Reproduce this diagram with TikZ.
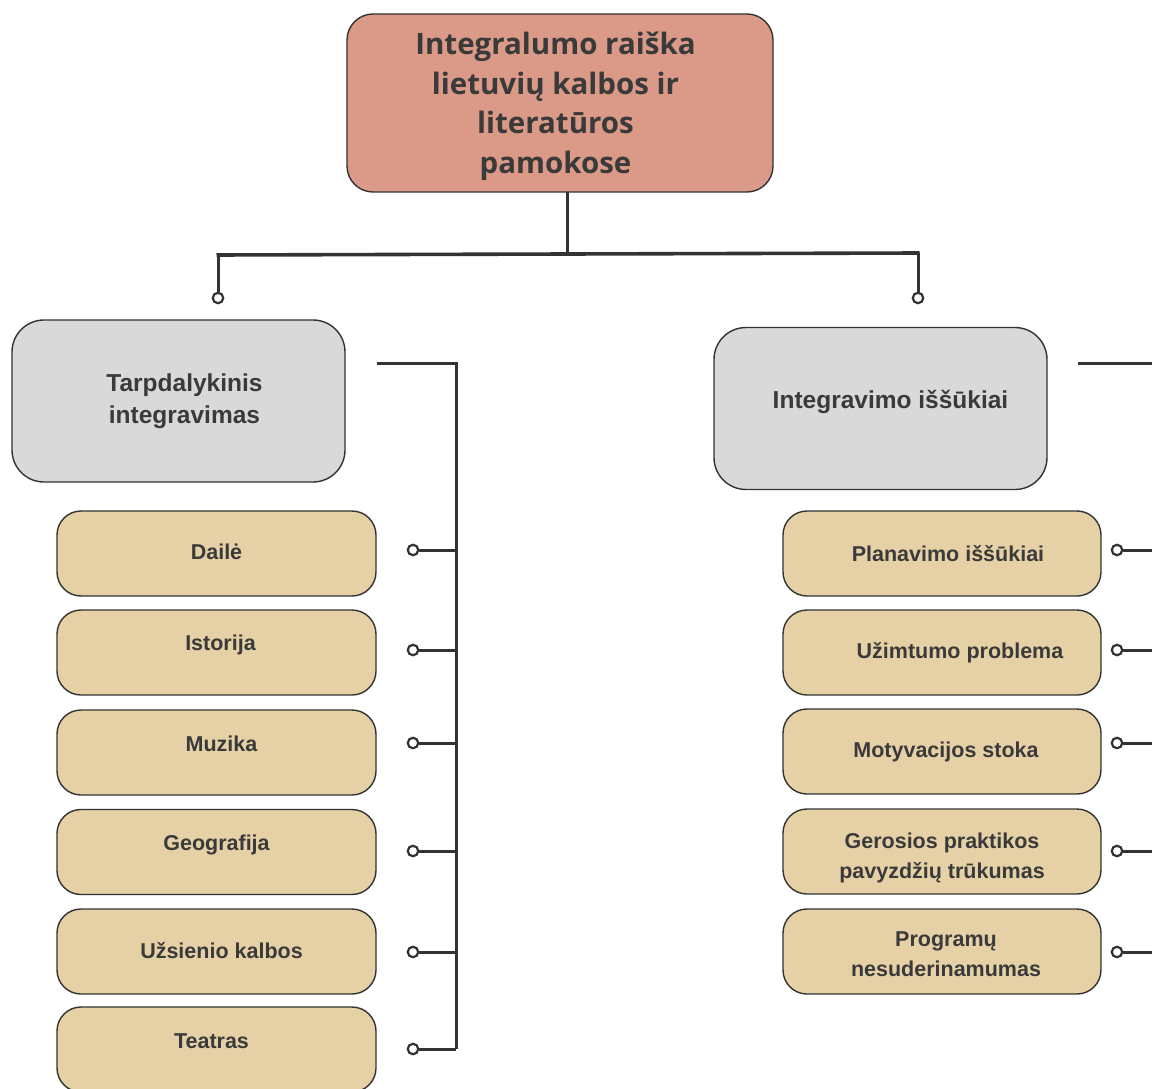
\documentclass[tikz,border=0pt]{standalone}
\usepackage{fontspec}
\setmainfont{Liberation Sans}
\newfontfamily\titlefont{Open Sans}
\definecolor{titlefill}{HTML}{DB9A87}
\definecolor{grayfill}{HTML}{D9D9D9}
\definecolor{tanfill}{HTML}{E6D1A6}
\definecolor{linec}{HTML}{333333}
\definecolor{textc}{HTML}{3A3A3A}
% shift text inside a box without changing the box
\newcommand{\tshift}[3]{\raisebox{#2}[\height][\depth]{\hspace*{#1}#3\hspace*{-#1}}}
\newcommand{\twol}[2]{\begin{tabular}{@{}c@{}}#1\\#2\end{tabular}}
\tikzset{
  titlebox/.style={draw=linec, line width=1.4pt, fill=titlefill, rounded corners=26pt, minimum width=426pt, minimum height=178pt, align=center, text=textc, font=\titlefont\bfseries\fontsize{29.5}{39.7}\selectfont},
  graybox/.style={draw=linec, line width=1.4pt, fill=grayfill, rounded corners=32pt, minimum width=333pt, minimum height=162pt, align=center, text=textc, font=\bfseries\fontsize{24.5}{32}\selectfont},
  tanbox/.style={draw=linec, line width=1.4pt, fill=tanfill, rounded corners=24pt, minimum width=319pt, minimum height=85pt, align=center, text=textc, font=\bfseries\fontsize{21.5}{30.5}\selectfont},
  knob/.style={circle, draw=linec, line width=2.2pt, fill=white, inner sep=0pt, minimum size=10.5pt},
  conn/.style={draw=linec, line width=3pt},
}
\begin{document}
\begin{tikzpicture}[x=1pt,y=-1pt]
\useasboundingbox (0,0) rectangle (1152,1089);
\clip (0,0) rectangle (1152,1089);
\fill[white] (0,0) rectangle (1152,1089);

\node[titlebox] (title) at (560,103) {\tshift{-4.5pt}{-3pt}{\begin{tabular}{@{}c@{}}Integralumo raiška\\lietuvių kalbos ir\\literatūros\\pamokose\end{tabular}}};

\node[graybox] (left) at (178.5,401) {\tshift{6pt}{0pt}{\twol{Tarpdalykinis}{integravimas}}};
\node[graybox] (right) at (880.5,408.5) {\tshift{10pt}{7pt}{Integravimo iššūkiai}};

% top tree
\coordinate (tstem) at (567,192);
\coordinate (tjoin) at (567,254);
\coordinate (tl) at (218,255);
\coordinate (tr) at (918,253);
\node[knob] (kl) at (218,298) {};
\node[knob] (kr) at (918,298) {};
\draw[conn] (tstem) -- (tjoin);
\draw[conn, line width=3.6pt] ([xshift=-1.5pt]tl) -- ([xshift=1.5pt]tr);
\draw[conn] (tl) -- (kl.north);
\draw[conn] (tr) -- (kr.north);

% left column
\node[tanbox] (l1) at (216.5,553.5) {\tshift{0pt}{2pt}{Dailė}};
\node[tanbox] (l2) at (216.5,652.5) {\tshift{4pt}{8pt}{Istorija}};
\node[tanbox] (l3) at (216.5,752.5) {\tshift{5pt}{9pt}{Muzika}};
\node[tanbox] (l4) at (216.5,852) {\tshift{0pt}{7pt}{Geografija}};
\node[tanbox] (l5) at (216.5,951.5) {\tshift{5pt}{1pt}{Užsienio kalbos}};
\node[tanbox] (l6) at (216.5,1049.5) {\tshift{-5pt}{8pt}{Teatras}};

\coordinate (lbs) at (377,363);
\coordinate (lbt) at (456,363);
\coordinate (lbb) at (456,1049);
\draw[conn] (lbs) -- (lbt) -- (lbb);
\foreach \i/\y in {1/550,2/650,3/743,4/851,5/952,6/1049}{
  \node[knob] (lk\i) at (413,\y) {};
  \coordinate (lj\i) at (456,\y);
  \draw[conn] (lk\i.east) -- (lj\i);
}

% right column
\node[tanbox, minimum width=318pt] (r1) at (942,553.5) {\tshift{6pt}{0pt}{Planavimo iššūkiai}};
\node[tanbox, minimum width=318pt] (r2) at (942,652.5) {\tshift{18pt}{0pt}{Užimtumo problema}};
\node[tanbox, minimum width=318pt] (r3) at (942,751.5) {\tshift{4pt}{0pt}{Motyvacijos stoka}};
\node[tanbox, minimum width=318pt] (r4) at (942,851.5) {\tshift{0pt}{-6pt}{\twol{Gerosios praktikos}{pavyzdžių trūkumas}}};
\node[tanbox, minimum width=318pt] (r5) at (942,951.5) {\tshift{4pt}{-4pt}{\twol{Programų}{nesuderinamumas}}};

\coordinate (rbs) at (1078,363);
\coordinate (rbe) at (1153,363);
\draw[conn] (rbs) -- (rbe);
\foreach \i/\y in {1/550,2/650,3/743,4/851,5/952}{
  \node[knob] (rk\i) at (1117,\y) {};
  \coordinate (rj\i) at (1153,\y);
  \draw[conn] (rk\i.east) -- (rj\i);
}
\end{tikzpicture}
\end{document}
